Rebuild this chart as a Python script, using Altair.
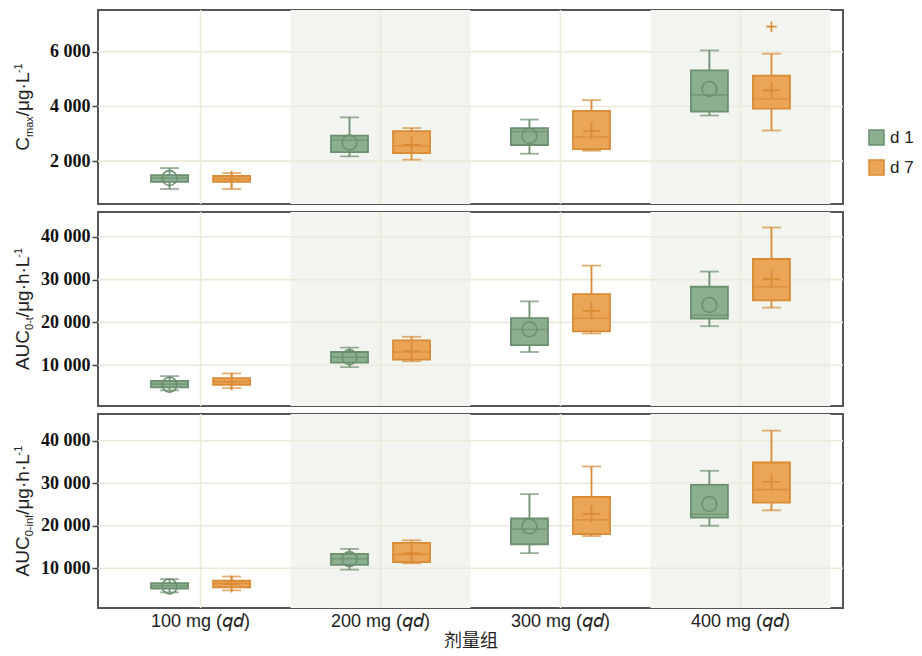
import altair as alt
import pandas as pd

# ---------------- data ----------------
groups = ["100 mg (𝘲𝘥)", "200 mg (𝘲𝘥)", "300 mg (𝘲𝘥)", "400 mg (𝘲𝘥)"]
days = ["d 1", "d 7"]
shaded_groups = [groups[1], groups[3]]

# order: 100 d1, 100 d7, 200 d1, 200 d7, 300 d1, 300 d7, 400 d1, 400 d7
cmax_min = [980, 980, 2170, 2050, 2270, 2380, 3670, 3120]
cmax_q1 = [1240, 1240, 2330, 2290, 2590, 2440, 3810, 3920]
cmax_med = [1380, 1345, 2775, 2560, 3080, 2880, 4425, 4280]
cmax_q3 = [1490, 1455, 2930, 3100, 3210, 3840, 5320, 5130]
cmax_max = [1745, 1560, 3600, 3210, 3520, 4230, 6050, 5930]
cmax_mean = [1380, 1330, 2680, 2600, 2920, 3100, 4640, 4590]
cmax_out_group = [groups[3]]
cmax_out_day = ["d 7"]
cmax_out_val = [6920]

auct_min = [4130, 4660, 9540, 10930, 13090, 17420, 19120, 23460]
auct_q1 = [4830, 5430, 10620, 11310, 14700, 17890, 20900, 25150]
auct_med = [5590, 6210, 11860, 13090, 18350, 20980, 21670, 28330]
auct_q3 = [6360, 6980, 13090, 15800, 20980, 26630, 28330, 34820]
auct_max = [7450, 8070, 14100, 16650, 24920, 33270, 31880, 42180]
auct_mean = [5450, 6150, 11850, 13320, 18400, 22690, 24080, 30110]

auci_min = [4330, 4790, 9680, 11160, 13560, 17580, 20000, 23630]
auci_q1 = [5190, 5490, 10770, 11460, 15650, 18040, 21930, 25420]
auci_med = [5880, 6420, 12230, 13250, 19210, 21390, 22700, 28510]
auci_q3 = [6510, 7050, 13400, 15950, 21700, 26810, 29600, 34880]
auci_max = [7440, 8050, 14560, 16580, 27440, 33950, 32930, 42390]
auci_mean = [5720, 6300, 12150, 13560, 19830, 22790, 25110, 30370]

cmax_ticks = [2000, 4000, 6000]
auc_ticks = [10000, 20000, 30000, 40000]

# y-axis titles: (text, role, approx width in em of its own font size)
cmax_title = [("C", "main", 0.722), ("max", "sub", 1.889), ("/μg·L", "main", 2.27), ("-1", "sup", 0.889)]
auct_title = [("AUC", "main", 2.111), ("0-t", "sub", 1.167), ("/μg·h·L", "main", 3.13), ("-1", "sup", 0.889)]
auci_title = [("AUC", "main", 2.111), ("0-inf", "sub", 1.945), ("/μg·h·L", "main", 3.13), ("-1", "sup", 0.889)]

# ---------------- style ----------------
fills = ["#8caf90", "#eaa557"]
strokes = ["#6b8f6f", "#d98a33"]
grid_c = "#ece8da"
shade_c = "#f2f4f0"
plus = "M-1,0L1,0M0,-1L0,1"
W, H = 745, 194
F_MAIN, F_SMALL = 19, 11
TITLE_X = -69


def make_df(mins, q1s, meds, q3s, maxs, means):
    rows = []
    i = 0
    for g in groups:
        for k, d in enumerate(days):
            rows.append(dict(group=g, day=d, lo=mins[i], q1=q1s[i], med=meds[i],
                             q3=q3s[i], hi=maxs[i], mean=means[i], sc=strokes[k]))
            i += 1
    return pd.DataFrame(rows)


leg = alt.Legend(title=None, orient="none", legendX=770, legendY=119,
                 symbolType="square", symbolSize=225, symbolStrokeWidth=1.5,
                 labelFont="Liberation Sans", labelFontSize=17, labelColor="#222",
                 rowPadding=9, labelOffset=5, padding=0)


def title_layers(pieces):
    sizes = [F_SMALL if r in ("sub", "sup") else F_MAIN for _, r, _ in pieces]
    widths = [w * s for (_, _, w), s in zip(pieces, sizes)]
    total = sum(widths)
    pos = H / 2 + total / 2
    out = []
    for (t, role, _), s, w in zip(pieces, sizes, widths):
        shift = {"sub": 4, "sup": -7}.get(role, 0)
        out.append(
            alt.Chart(pd.DataFrame({"t": [t]})).mark_text(
                angle=270, align="left", baseline="alphabetic", fontSize=s,
                font="Liberation Sans", color="#222").encode(
                text="t:N", x=alt.value(TITLE_X + shift), y=alt.value(pos)))
        pos -= w
    return out


def panel(df, title_pieces, domain, ticks, bottom, out_df=None):
    xscale = alt.Scale(domain=groups, paddingInner=0, paddingOuter=0.07)
    if bottom:
        xaxis = alt.Axis(title="剂量组", labelAngle=0, ticks=False, domain=False, grid=False,
                         labelFont="Liberation Sans", labelFontSize=18, labelColor="#222",
                         labelPadding=4, titleFont="Noto Sans CJK SC", titleFontSize=18,
                         titleFontWeight="normal", titleColor="#222", titlePadding=2)
    else:
        xaxis = None
    x = alt.X("group:N", scale=xscale, axis=xaxis)
    xo = alt.XOffset("day:N", scale=alt.Scale(domain=days, paddingInner=0, paddingOuter=0.45))
    yscale = alt.Scale(domain=domain, nice=False, zero=False)
    yaxis = alt.Axis(title=None, values=ticks,
                     labelExpr="replace(format(datum.value, ','), ',', ' ')",
                     grid=False, domain=False, tickSize=6, tickWidth=1.5, tickColor="#444",
                     labelFont="Liberation Serif", labelFontWeight="bold", labelFontSize=18,
                     labelColor="#111", labelPadding=2)

    def Y(f):
        return alt.Y(f, scale=yscale, axis=yaxis)

    col = alt.Color("sc:N", scale=None)

    shade = alt.Chart(pd.DataFrame({"group": shaded_groups})).mark_rect(color=shade_c).encode(
        x=x, y=alt.value(0), y2=alt.value(H))
    vgrid = alt.Chart(pd.DataFrame({"group": groups})).mark_rule(color=grid_c, strokeWidth=1.6).encode(
        x=x, y=alt.value(0), y2=alt.value(H))
    hgrid = alt.Chart(pd.DataFrame({"v": ticks})).mark_rule(color=grid_c, strokeWidth=1.6).encode(
        y=Y("v:Q"), x=alt.value(0), x2=alt.value(W))

    base = alt.Chart(df)
    whisk = base.mark_rule(strokeWidth=1.8).encode(x=x, xOffset=xo, y=Y("lo:Q"), y2="hi:Q", color=col)
    box = base.mark_bar(size=37, strokeWidth=1.8).encode(
        x=x, xOffset=xo, y=Y("q1:Q"), y2="q3:Q",
        fill=alt.Fill("day:N", scale=alt.Scale(domain=days, range=fills), legend=leg),
        stroke=alt.Stroke("day:N", scale=alt.Scale(domain=days, range=strokes), legend=leg))
    caps = base.transform_fold(["lo", "hi"], as_=["k", "v"]).mark_tick(size=19, thickness=1.8).encode(
        x=x, xOffset=xo, y=Y("v:Q"), color=col)
    med = base.mark_tick(size=37, thickness=1.6).encode(x=x, xOffset=xo, y=Y("med:Q"), color=col)
    mean1 = base.transform_filter(alt.datum.day == days[0]).mark_point(
        shape="circle", size=220, filled=False, strokeWidth=1.6, opacity=1).encode(
        x=x, xOffset=xo, y=Y("mean:Q"), color=col)
    mean7 = base.transform_filter(alt.datum.day == days[1]).mark_point(
        shape=plus, size=290, filled=False, strokeWidth=1.6, opacity=1).encode(
        x=x, xOffset=xo, y=Y("mean:Q"), color=col)
    layers = [shade, vgrid, hgrid, whisk, box, caps, med, mean1, mean7]
    if out_df is not None:
        outl = alt.Chart(out_df).mark_point(shape=plus, filled=False, size=110, strokeWidth=1.6,
                                            opacity=1).encode(
            x=x, xOffset=xo, y=Y("v:Q"), color=col)
        layers.append(outl)
    layers += title_layers(title_pieces)
    return alt.layer(*layers).properties(width=W, height=H)


cmax_df = make_df(cmax_min, cmax_q1, cmax_med, cmax_q3, cmax_max, cmax_mean)
auct_df = make_df(auct_min, auct_q1, auct_med, auct_q3, auct_max, auct_mean)
auci_df = make_df(auci_min, auci_q1, auci_med, auci_q3, auci_max, auci_mean)
out_df = pd.DataFrame({"group": cmax_out_group, "day": cmax_out_day, "v": cmax_out_val,
                       "sc": [strokes[days.index(d)] for d in cmax_out_day]})

p1 = panel(cmax_df, cmax_title, [430, 7530], cmax_ticks, False, out_df)
p2 = panel(auct_df, auct_title, [470, 45800], auc_ticks, False)
p3 = panel(auci_df, auci_title, [640, 46300], auc_ticks, True)

chart = alt.vconcat(p1, p2, p3, spacing=4).resolve_scale(y="independent").configure_view(
    stroke="#555555", strokeWidth=2).properties(
    padding={"left": 4, "top": 0, "right": 0, "bottom": 0})

chart.save("out.html", embed_options={"renderer": "svg", "actions": False})
